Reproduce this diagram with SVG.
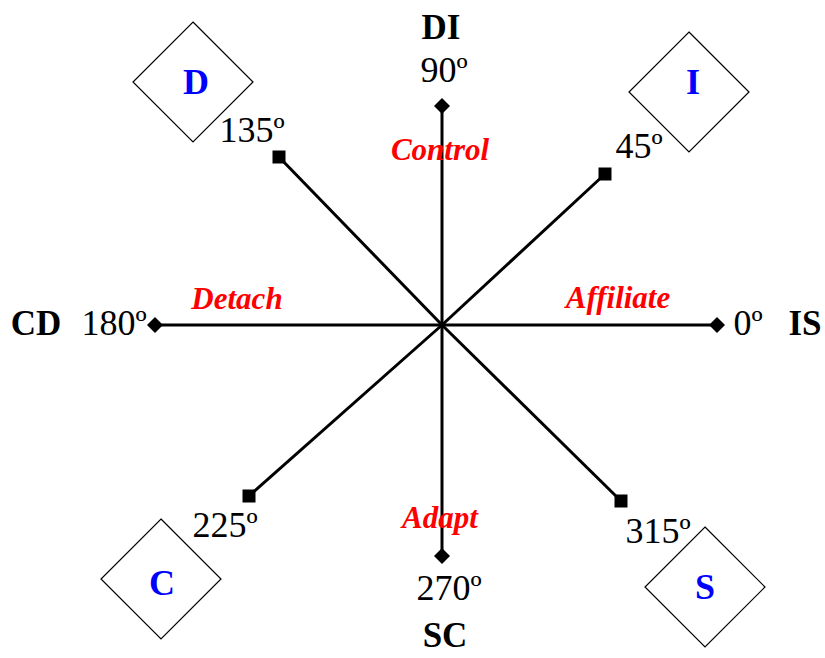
<svg xmlns="http://www.w3.org/2000/svg" width="825" height="658" viewBox="0 0 825 658">
<style>
.box{fill:#fff;stroke:#000;stroke-width:1.2}
.let{font-family:"Liberation Serif",serif;font-weight:bold;font-size:36px;fill:#0000ff;text-anchor:middle}
.deg{font-family:"Liberation Serif",serif;font-size:36px;fill:#000}
.ax{font-family:"Liberation Serif",serif;font-weight:bold;font-size:35px;fill:#000}
.red{font-family:"Liberation Serif",serif;font-weight:bold;font-style:italic;font-size:31px;fill:#ff0000}
.ln{stroke:#000;stroke-width:3;fill:none}
</style>
<defs>
<marker id="dia" markerUnits="userSpaceOnUse" markerWidth="20" markerHeight="20" viewBox="-10 -10 20 20" refX="0" refY="0" orient="0">
<path d="M0,-8 L8,0 L0,8 L-8,0 Z" fill="#000"/>
</marker>
<marker id="sq" markerUnits="userSpaceOnUse" markerWidth="16" markerHeight="16" viewBox="-8 -8 16 16" refX="0" refY="0" orient="0">
<rect x="-6.5" y="-6.5" width="13" height="13" fill="#000"/>
</marker>
</defs>
<g id="connectors">
<line class="ln" x1="442" y1="325" x2="717" y2="325" marker-end="url(#dia)"/>
<line class="ln" x1="442" y1="325" x2="155" y2="325" marker-end="url(#dia)"/>
<line class="ln" x1="442" y1="325" x2="442" y2="106" marker-end="url(#dia)"/>
<line class="ln" x1="442" y1="325" x2="442" y2="556" marker-end="url(#dia)"/>
<line class="ln" x1="442" y1="325" x2="279" y2="157" marker-end="url(#sq)"/>
<line class="ln" x1="442" y1="325" x2="605" y2="174" marker-end="url(#sq)"/>
<line class="ln" x1="442" y1="325" x2="249" y2="496" marker-end="url(#sq)"/>
<line class="ln" x1="442" y1="325" x2="621" y2="501" marker-end="url(#sq)"/>
</g>
<g id="node-D">
<path class="box" d="M193,22 L253,82 L193,142 L133,82 Z"/>
<text class="let" x="196" y="94">D</text>
</g>
<g id="node-I">
<path class="box" d="M689,32 L749,92 L689,152 L629,92 Z"/>
<text class="let" x="693" y="94">I</text>
</g>
<g id="node-C">
<path class="box" d="M161,519 L221,579 L161,639 L101,579 Z"/>
<text class="let" x="162" y="595">C</text>
</g>
<g id="node-S">
<path class="box" d="M705,527 L765,587 L705,647 L645,587 Z"/>
<text class="let" x="705" y="599">S</text>
</g>
<g id="labels">
<text class="ax" x="441" y="39" text-anchor="middle">DI</text>
<text class="deg" x="444" y="82" text-anchor="middle">90º</text>
<text class="ax" x="445" y="647" text-anchor="middle">SC</text>
<text class="deg" x="449" y="600" text-anchor="middle">270º</text>
<text class="ax" x="36" y="335" text-anchor="middle">CD</text>
<text class="deg" x="114" y="335" text-anchor="middle">180º</text>
<text class="deg" x="748" y="335" text-anchor="middle">0º</text>
<text class="ax" x="805" y="335" text-anchor="middle">IS</text>
<text class="deg" x="252" y="142" text-anchor="middle">135º</text>
<text class="deg" x="639" y="158" text-anchor="middle">45º</text>
<text class="deg" x="225" y="537" text-anchor="middle">225º</text>
<text class="deg" x="658" y="543" text-anchor="middle">315º</text>
<text class="red" x="440" y="160" text-anchor="middle">Control</text>
<text class="red" x="237" y="309" text-anchor="middle">Detach</text>
<text class="red" x="618" y="308" text-anchor="middle">Affiliate</text>
<text class="red" x="440" y="528" text-anchor="middle">Adapt</text>
</g>
</svg>
